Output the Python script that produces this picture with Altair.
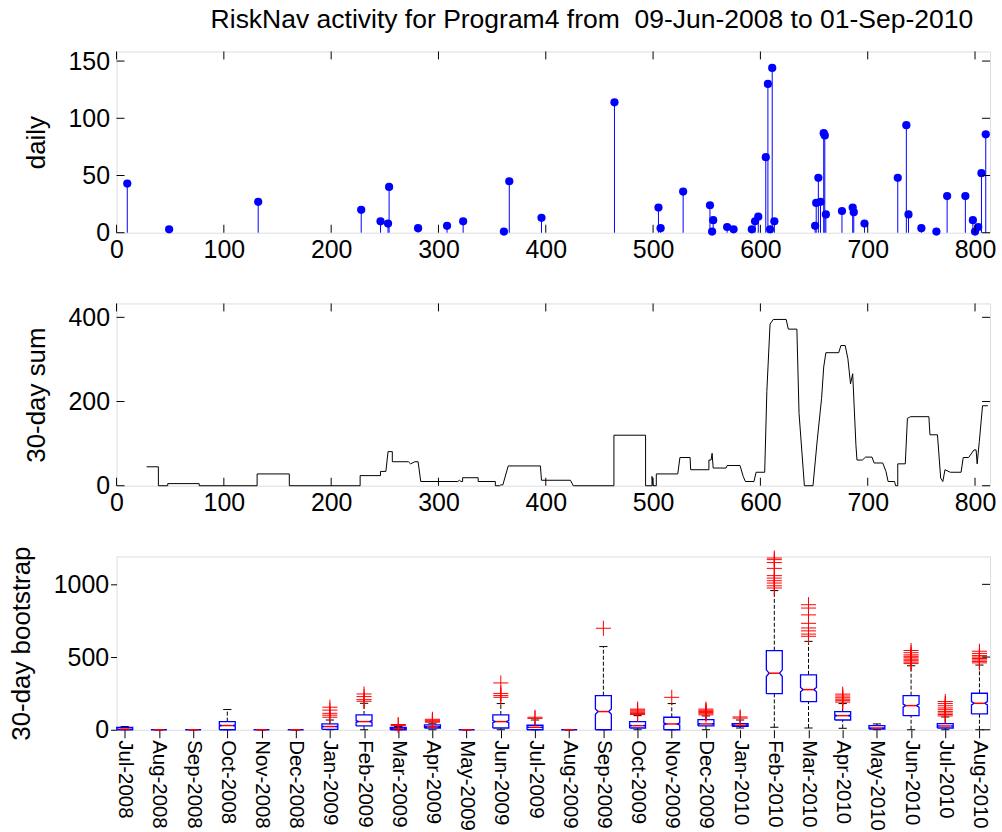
import altair as alt
import pandas as pd

# ---------------- data ----------------
day = [10, 49, 132, 228, 246, 253, 254, 281, 308, 323, 361, 366, 396, 464, 505, 507, 528,
       553, 555, 556, 569, 575, 592, 595, 598, 605, 607, 609, 611, 613, 651, 652, 654, 656,
       659, 660, 661, 676, 686, 687, 697, 728, 736, 738, 750, 764, 774, 791, 798, 800, 803,
       806, 810]
daily = [43, 3, 27, 20, 10, 8, 40, 4, 6, 10, 1, 45, 13, 114, 22, 4, 36,
         24, 1, 11, 5, 3, 3, 10, 14, 66, 130, 3, 144, 10, 6, 26, 48, 27,
         87, 85, 16, 19, 22, 18, 8, 48, 94, 16, 4, 1, 32, 32, 11, 1, 5,
         52, 86]

sum_day = [28, 39, 39, 47.7, 47.7, 77, 77, 131, 131, 161, 161, 227, 227, 246, 246, 251, 253, 257,
           257, 272, 274, 278, 281, 283.5, 318, 319.5, 321, 322.5, 322.5, 337, 337, 353, 353, 357,
           358, 360, 365, 395, 396, 423, 425.6, 463.5, 463.5, 493, 493, 499, 499, 500, 503, 503,
           523, 525, 534.5, 535, 552, 552, 554, 555, 556, 568, 569, 581, 584, 586, 594, 596, 604,
           606, 609, 612, 624, 626, 634, 636, 641, 649, 653, 657, 659, 661, 673, 675, 679, 681.5,
           684, 686, 689, 690, 695, 698, 704, 706, 714, 717, 719, 725, 726, 728, 728, 735, 737,
           740, 757, 758, 765, 768, 770, 772, 777, 787, 789, 794, 799, 801, 802, 804, 807, 812]
sum_val = [45, 45, 0, 0, 5, 5, 0, 0, 28, 28, 0, 0, 24, 24, 34, 34, 81, 81,
           57, 57, 52, 57, 57, 10, 10, 13, 10, 10, 19, 19, 10, 10, 0, 0,
           2, 2, 47, 47, 13, 13, 0, 0, 120, 120, 0, 0, 22, 0, 0, 28,
           28, 67, 67, 38, 38, 61, 61, 77, 42, 42, 48, 48, 22, 10, 10, 32, 32,
           224, 384, 395, 395, 372, 372, 172, 0, 0, 109, 207, 282, 316, 316, 333, 333, 302,
           242, 266, 97, 61, 61, 68, 68, 54, 54, 34, 10, 10, 0, 0, 52, 52, 160,
           164, 164, 121, 121, 18, 10, 38, 32, 32, 67, 67, 85, 85, 52, 105, 190, 190]

months = ["Jul-2008", "Aug-2008", "Sep-2008", "Oct-2008", "Nov-2008", "Dec-2008",
          "Jan-2009", "Feb-2009", "Mar-2009", "Apr-2009", "May-2009", "Jun-2009",
          "Jul-2009", "Aug-2009", "Sep-2009", "Oct-2009", "Nov-2009", "Dec-2009",
          "Jan-2010", "Feb-2010", "Mar-2010", "Apr-2010", "May-2010", "Jun-2010",
          "Jul-2010", "Aug-2010"]
q1 = [0, 0, 0, 0, 0, 0, 3, 26, 0, 12, 0, 12, 0, 0, 0, 12, 0, 26, 24, 248, 194, 67, 5, 97, 12, 109]
med = [5, 0, 0, 29, 0, 0, 22, 56, 8, 22, 0, 56, 17, 0, 125, 28, 40, 40, 31, 389, 276, 97, 12, 166, 26, 182]
q3 = [17, 0, 0, 56, 0, 0, 40, 102, 17, 33, 0, 102, 31, 0, 235, 56, 86, 70, 42, 544, 378, 125, 29, 235, 42, 251]
wlo = [0, 0, 0, 0, 0, 0, 0, 0, 0, 0, 0, 0, 0, 0, 0, 0, 0, 0, 12, 17, 12, 10, 0, 0, 0, 0]
whi = [22, 0, 0, 139, 0, 0, 67, 182, 22, 45, 0, 180, 67, 0, 572, 97, 180, 95, 67, 957, 608, 180, 40, 440, 88, 445]
outliers = [[], [], [], [], [], [],
            [86, 100, 113, 135, 155], [196, 207, 228, 246], [29, 36], [52, 58, 65, 72], [],
            [223, 235, 250, 322], [78, 86], [], [698], [105, 112, 120, 128, 135, 142], [223],
            [102, 110, 118, 126, 134, 142], [80, 88],
            [975, 990, 1009, 1025, 1043, 1060, 1110, 1150, 1170, 1181],
            [643, 658, 680, 700, 732, 790, 837, 860], [190, 200, 210, 220, 232, 245], [],
            [455, 465, 475, 485, 495, 505, 515, 530, 545],
            [95, 105, 115, 125, 138, 150, 165, 180, 194],
            [460, 470, 480, 490, 500, 510, 525, 540]]

x_ticks = [0, 100, 200, 300, 400, 500, 600, 700, 800]
y1_ticks = [0, 50, 100, 150]
y2_ticks = [0, 200, 400]
y3_ticks = [0, 500, 1000]

# ---------------- style ----------------
FONT = "Liberation Sans"
LFS = 25     # tick label font size
TFS = 26     # axis title font size
W = 877
H1, H2, H3 = 182, 183, 174
TL = 8
BLUE = "#0000ff"
RED = "#ff0000"

def x_axis():
    return alt.Axis(values=x_ticks, title=None, ticks=False, domain=False, grid=False,
                    labelFlush=False, labelPadding=5, labelFontSize=LFS, format="d")

def y_axis(vals, title):
    return alt.Axis(values=vals, title=title, ticks=False, domain=False, grid=False,
                    labelPadding=7, labelFontSize=LFS, titleFontSize=TFS, titlePadding=19,
                    titleFontWeight="normal", format="d")

def inward_ticks(xscale, xax, yscale, yax, yvals, h, top=True):
    tx = pd.DataFrame({"t": x_ticks})
    ty = pd.DataFrame({"t": yvals})
    layers = [
        alt.Chart(tx).mark_rule(color="black").encode(
            x=alt.X("t:Q", scale=xscale, axis=xax), y=alt.value(h), y2=alt.value(h - TL)),
        alt.Chart(ty).mark_rule(color="black").encode(
            y=alt.Y("t:Q", scale=yscale, axis=yax), x=alt.value(0), x2=alt.value(TL)),
        alt.Chart(ty).mark_rule(color="black").encode(
            y=alt.Y("t:Q", scale=yscale, axis=yax), x=alt.value(W), x2=alt.value(W - TL)),
    ]
    if top:
        layers.append(alt.Chart(tx).mark_rule(color="black").encode(
            x=alt.X("t:Q", scale=xscale, axis=xax), y=alt.value(0), y2=alt.value(TL)))
    return layers

# ---------------- panel 1: daily stems ----------------
xs = alt.Scale(domain=[0, 814], nice=False, zero=False)
ys1 = alt.Scale(domain=[0, 158.4], nice=False)
ax1 = x_axis()
ay1 = y_axis(y1_ticks, "daily")
d1 = pd.DataFrame({"day": day, "count": daily})
stems = alt.Chart(d1).mark_rule(color=BLUE, strokeWidth=1).encode(
    x=alt.X("day:Q", scale=xs, axis=ax1),
    y=alt.Y("count:Q", scale=ys1, axis=ay1),
    y2=alt.datum(0))
dots = alt.Chart(d1).mark_circle(color=BLUE, size=68, opacity=1).encode(
    x=alt.X("day:Q", scale=xs, axis=ax1),
    y=alt.Y("count:Q", scale=ys1, axis=ay1))
p1 = alt.layer(stems, dots, *inward_ticks(xs, ax1, ys1, ay1, y1_ticks, H1)).properties(
    width=W, height=H1)

# ---------------- panel 2: 30-day sum ----------------
ys2 = alt.Scale(domain=[0, 433], nice=False)
ax2 = x_axis()
ay2 = y_axis(y2_ticks, "30-day sum")
d2 = pd.DataFrame({"day": sum_day, "s": sum_val, "i": list(range(len(sum_day)))})
line = alt.Chart(d2).mark_line(color="black", strokeWidth=1).encode(
    x=alt.X("day:Q", scale=xs, axis=ax2),
    y=alt.Y("s:Q", scale=ys2, axis=ay2),
    order=alt.Order("i:Q"))
p2 = alt.layer(line, *inward_ticks(xs, ax2, ys2, ay2, y2_ticks, H2)).properties(
    width=W, height=H2)

# ---------------- panel 3: monthly bootstrap boxplots ----------------
HW = 0.233   # box half width (x units)
IND = 0.08   # notch indent
CAP = 0.12   # cap half width
pos = list(range(1, len(months) + 1))

outline = []
medrows = []
whisk = []
caps = []
outs = []
for k, p in enumerate(pos):
    a, m, b = q1[k], med[k], q3[k]
    nh = 0.0785 * (b - a)
    pts = [(p - HW, a), (p - HW, m - nh), (p - HW + IND, m), (p - HW, m + nh), (p - HW, b),
           (p + HW, b), (p + HW, m + nh), (p + HW - IND, m), (p + HW, m - nh), (p + HW, a),
           (p - HW, a)]
    for s, (xx, yy) in enumerate(pts):
        outline.append({"box": k, "seq": s, "bx": xx, "by": yy})
    medrows.append({"x1": p - HW + IND, "x2": p + HW - IND, "m": m})
    if whi[k] > b:
        whisk.append({"p": p, "w1": b, "w2": whi[k]})
    if wlo[k] < a:
        whisk.append({"p": p, "w1": wlo[k], "w2": a})
    caps.append({"c1": p - CAP, "c2": p + CAP, "cy": whi[k]})
    caps.append({"c1": p - CAP, "c2": p + CAP, "cy": wlo[k]})
    for v in outliers[k]:
        outs.append({"p": p, "v": v})

xs3 = alt.Scale(domain=[0.76, 26.31], nice=False, zero=False)
ys3 = alt.Scale(domain=[0, 1192], nice=False)
label_expr = "[" + ",".join("'%s'" % m for m in months) + "][datum.value - 1]"
ax3 = alt.Axis(values=pos, title=None, labelExpr=label_expr, labelAngle=90, labelAlign="left",
               labelBaseline="middle", labelFontSize=20.5, labelPadding=2, tickSize=8,
               tickColor="black", domain=False, grid=False, labelOverlap=False,
               labelFlush=False, labelBound=False)
ay3 = alt.Axis(values=y3_ticks, title="30-day bootstrap", tickSize=6, tickColor="black",
               domain=False, grid=False, labelPadding=2, labelFontSize=LFS, format="d",
               titleFontSize=TFS, titlePadding=19, titleFontWeight="normal")

boxes = alt.Chart(pd.DataFrame(outline)).mark_line(color=BLUE, strokeWidth=1.3).encode(
    x=alt.X("bx:Q", scale=xs3, axis=ax3),
    y=alt.Y("by:Q", scale=ys3, axis=ay3),
    detail="box:N", order=alt.Order("seq:Q"))
whisk_l = alt.Chart(pd.DataFrame(whisk)).mark_rule(color="black", strokeWidth=1,
                                                    strokeDash=[4, 2]).encode(
    x=alt.X("p:Q", scale=xs3, axis=ax3),
    y=alt.Y("w1:Q", scale=ys3, axis=ay3), y2="w2:Q")
cap_l = alt.Chart(pd.DataFrame(caps)).mark_rule(color="black", strokeWidth=1).encode(
    x=alt.X("c1:Q", scale=xs3, axis=ax3), x2="c2:Q",
    y=alt.Y("cy:Q", scale=ys3, axis=ay3))
med_l = alt.Chart(pd.DataFrame(medrows)).mark_rule(color=RED, strokeWidth=1.5).encode(
    x=alt.X("x1:Q", scale=xs3, axis=ax3), x2="x2:Q",
    y=alt.Y("m:Q", scale=ys3, axis=ay3))
out_l = alt.Chart(pd.DataFrame(outs)).mark_point(
    shape="M-1,0L1,0M0,-1L0,1", filled=False, color=RED, size=230, strokeWidth=1,
    opacity=1).encode(
    x=alt.X("p:Q", scale=xs3, axis=ax3),
    y=alt.Y("v:Q", scale=ys3, axis=ay3))
rt = alt.Chart(pd.DataFrame({"t": y3_ticks})).mark_rule(color="black").encode(
    y=alt.Y("t:Q", scale=ys3, axis=ay3), x=alt.value(W), x2=alt.value(W - TL))
p3 = alt.layer(whisk_l, cap_l, boxes, med_l, out_l, rt).properties(width=W, height=H3)

chart = alt.vconcat(p1, p2, p3, spacing=71, bounds="flush").properties(
    title=alt.TitleParams(
        "RiskNav activity for Program4 from \u00a009-Jun-2008 to 01-Sep-2010",
        fontSize=26.6, font=FONT, fontWeight="normal", color="black",
        anchor="end", frame="group", offset=15, dx=-17),
    padding={"left": 7, "top": 5, "right": 5, "bottom": 0},
).configure_view(stroke="black", strokeWidth=1).configure_axis(
    labelFont=FONT, titleFont=FONT, labelColor="black", titleColor="black"
).configure(background="white")

chart.save("out.html", embed_options={"renderer": "svg", "actions": False})
